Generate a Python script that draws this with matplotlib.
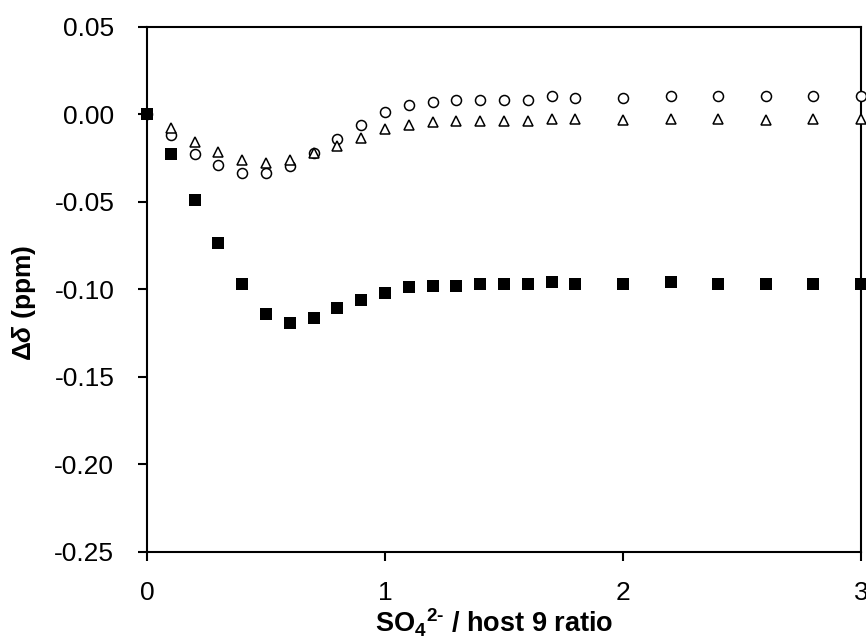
#!/usr/bin/env python3
"""Titration shift plot: SO4(2-) / host 9."""

import matplotlib

matplotlib.use("Agg")
import matplotlib.pyplot as plt
from matplotlib.ticker import MultipleLocator

ratio = [0.0, 0.1, 0.2, 0.3, 0.4, 0.5, 0.6, 0.7, 0.8, 0.9, 1.0,
         1.1, 1.2, 1.3, 1.4, 1.5, 1.6, 1.7, 1.8, 2.0, 2.2, 2.4, 2.6, 2.8, 3.0]

shift_squares = [0.0, -0.0225, -0.049, -0.0737, -0.097, -0.1144, -0.1196, -0.1164,
                 -0.111, -0.106, -0.102, -0.099, -0.098, -0.098, -0.097, -0.097,
                 -0.097, -0.096, -0.097, -0.097, -0.096, -0.097, -0.097, -0.097, -0.097]

shift_circles = [0.0, -0.0121, -0.0225, -0.0289, -0.0337, -0.0337, -0.0298, -0.0221,
                 -0.0144, -0.0062, 0.001, 0.0052, 0.0071, 0.0083, 0.0083, 0.0083,
                 0.0083, 0.0102, 0.0092, 0.0092, 0.0102, 0.0102, 0.0102, 0.0102, 0.0102]

shift_triangles = [0.0, -0.0077, -0.016, -0.0217, -0.026, -0.0279, -0.0264, -0.0221,
                   -0.0183, -0.0135, -0.0083, -0.0063, -0.0044, -0.0038, -0.0038,
                   -0.0038, -0.0038, -0.0029, -0.0029, -0.0033, -0.0029, -0.0029,
                   -0.0033, -0.0029, -0.0029]

y_ticks = [0.05, 0.00, -0.05, -0.10, -0.15, -0.20, -0.25]

plt.rcParams.update(
    {
        "font.family": ["Liberation Sans", "DejaVu Sans"],
        "font.size": 19,
        "mathtext.fontset": "custom",
        "mathtext.rm": "Liberation Sans:bold",
        "mathtext.it": "Liberation Sans:italic:bold",
        "mathtext.bf": "Liberation Sans:bold",
        "axes.linewidth": 1.5,
    }
)

figure = plt.figure(figsize=(8.66, 6.39), dpi=100)
axis = figure.add_axes([0.1697, 0.1369, 0.8245, 0.8213])

axis.plot(ratio, shift_circles, "o", ms=7.2, mfc="white", mec="black", mew=1.1,
          linestyle="none", zorder=3, clip_on=False)
axis.plot(ratio, shift_triangles, "^", ms=7.4, mfc="white", mec="black", mew=1.1,
          linestyle="none", zorder=3, clip_on=False)
axis.plot(ratio, shift_squares, "s", ms=8.3, mfc="black", mec="black", mew=0,
          linestyle="none", zorder=4, clip_on=False)

axis.set_xlim(0, 3)
axis.set_ylim(-0.25, 0.05)
axis.xaxis.set_major_locator(MultipleLocator(1))
axis.set_yticks(y_ticks)
axis.set_yticklabels([f"{v:.2f}" for v in y_ticks])
axis.tick_params(direction="out", length=6.5, width=1.5,
                 top=False, right=False, labelsize=19)
axis.tick_params(axis="y", pad=17)
axis.tick_params(axis="x", pad=15)

axis.set_xlabel(r"SO$_\mathbf{4}{}^\mathbf{2\text{-}}$ / host 9 ratio",
                fontweight="bold", fontsize=19.5)
axis.xaxis.set_label_coords(0.487, -0.105)
axis.set_ylabel(r"$\mathit{\Delta\delta}$ (ppm)", fontweight="bold", fontsize=19)
axis.yaxis.set_label_coords(-0.152, 0.473)

figure.savefig("out.png", dpi=100)
